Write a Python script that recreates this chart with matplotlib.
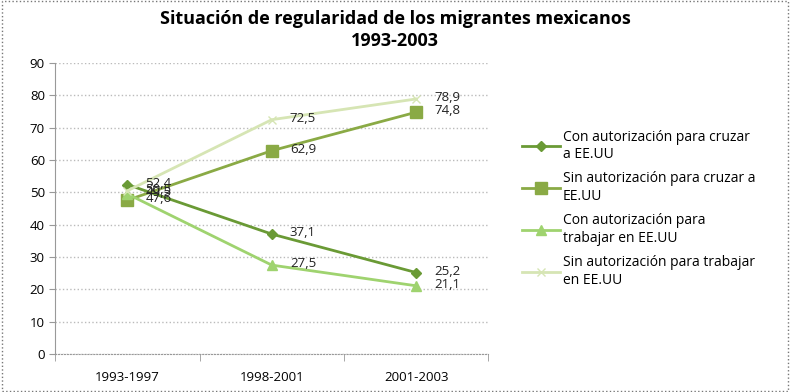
import matplotlib.pyplot as plt
from matplotlib.patches import Rectangle

plt.rcParams['font.family'] = ['Open Sans', 'DejaVu Sans']

periodos = ['1993-1997', '1998-2001', '2001-2003']
con_cruzar = [52.4, 37.1, 25.2]
sin_cruzar = [47.6, 62.9, 74.8]
con_trabajar = [49.5, 27.5, 21.1]
sin_trabajar = [50.5, 72.5, 78.9]

series = [
    ('Con autorización para cruzar\na EE.UU', con_cruzar, '#6a9a35', 'D', 5),
    ('Sin autorización para cruzar a\nEE.UU', sin_cruzar, '#8aaa45', 's', 8),
    ('Con autorización para\ntrabajar en EE.UU', con_trabajar, '#9fd36f', '^', 7),
    ('Sin autorización para trabajar\nen EE.UU', sin_trabajar, '#d6e5b4', 'x', 6),
]

fig = plt.figure(figsize=(7.9, 3.92), dpi=100)
ax = fig.add_axes([0.07, 0.097, 0.548, 0.742])

x = list(range(len(periodos)))
for nombre, vals, color, marker, ms in series:
    ax.plot(x, vals, color=color, marker=marker, markersize=ms, linewidth=2,
            label=nombre, markeredgecolor=color)
    for xi, v in zip(x, vals):
        ax.annotate(f'{v:.1f}'.replace('.', ','), (xi, v), xytext=(13, 1),
                    textcoords='offset points', va='center', fontsize=9.5,
                    color='#222222')

ax.set_xlim(-0.5, 2.5)
ax.set_ylim(0, 90)
ax.set_yticks(range(0, 91, 10))
ax.set_xticks(x)
ax.set_xticklabels(periodos)
ax.set_xticks([-0.5, 0.5, 1.5, 2.5], minor=True)
ax.tick_params(axis='x', which='major', length=0, pad=12)
ax.tick_params(axis='x', which='minor', length=5, color='#999999')
ax.tick_params(axis='y', length=4, color='#999999', labelsize=9.5)
ax.tick_params(axis='x', labelsize=9.5)
ax.grid(axis='y', color='#bbbbbb', linestyle=':', linewidth=1)
for s in ['top', 'right']:
    ax.spines[s].set_visible(False)
ax.spines['left'].set_color('#999999')
ax.spines['bottom'].set_color('#999999')
ax.spines['bottom'].set_linestyle(':')

fig.suptitle('Situación de regularidad de los migrantes mexicanos\n1993-2003',
             y=0.975, fontsize=13, fontweight='bold', linespacing=1.3)

ax.legend(loc='center left', bbox_to_anchor=(1.05, 0.5), frameon=False,
          fontsize=10, handlelength=2.7, labelspacing=0.7, handletextpad=0.2)

fig.patches.append(Rectangle((0.002, 0.003), 0.996, 0.994, transform=fig.transFigure,
                             fill=False, edgecolor='#777777', linestyle=':', linewidth=1))

fig.savefig('out.png', dpi=100)
